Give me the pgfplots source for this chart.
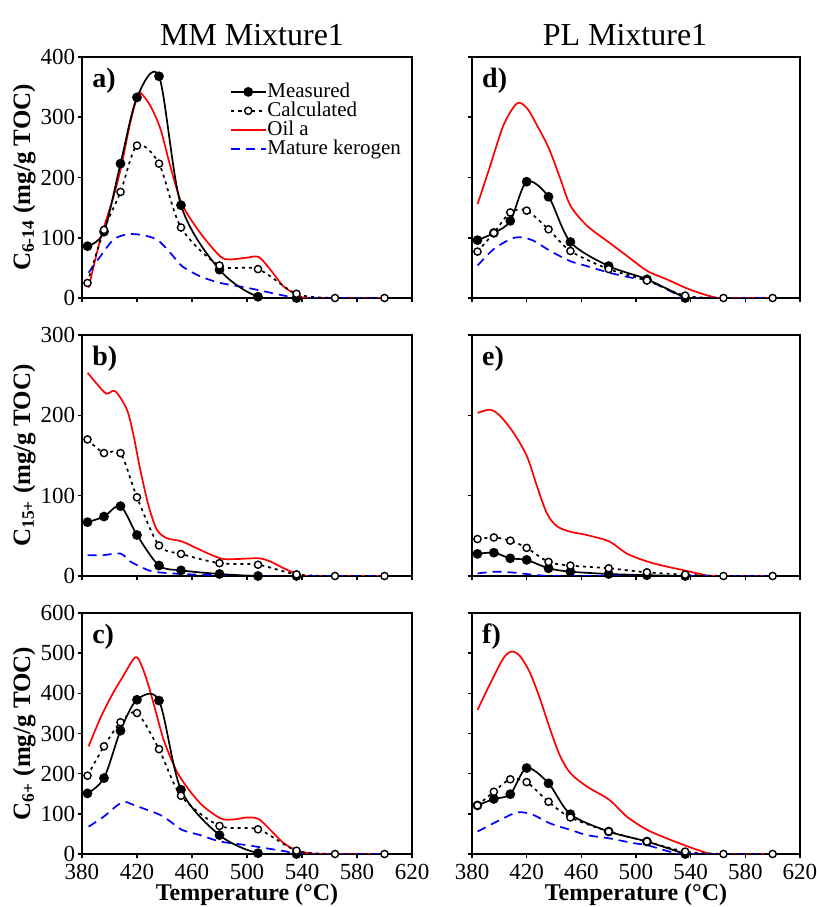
\documentclass[border=0pt]{standalone}
\usepackage{pgfplots}
\pgfplotsset{compat=1.18}
\usepackage{fontspec}
\setmainfont{Liberation Serif}

\pgfplotsset{
  panel/.style={
    scale only axis, width=165pt, height=120.5pt,
    xmin=380, xmax=620, xtick={380,420,...,620}, ymin=0,
    axis line style={line width=1pt},
    tick align=outside, tick pos=left, major tick length=2.2pt,
    every tick/.style={black, line width=0.8pt},
    tick label style={font=\fontsize{11.5}{11.5}\selectfont, inner sep=1pt},
    xticklabel style={inner ysep=0pt, yshift=-2.5pt},
    yticklabel style={inner ysep=0pt},
    /pgf/number format/assume math mode=true,
    ylabel style={at={(axis description cs:-0.175,0.5)}, anchor=center,
      font=\fontsize{12.5}{12.5}\bfseries\selectfont},
    xlabel style={at={(axis description cs:0.5,-0.193)}, anchor=base, inner sep=0pt,
      font=\fontsize{12}{12}\bfseries\selectfont},
  },
  measured/.style={black, line width=0.85pt, smooth, mark=*, mark size=2pt},
  calculated/.style={black, line width=0.85pt, smooth, dash pattern=on 1.5pt off 2pt,
    mark=*, mark size=1.8pt, mark options={solid, fill=white, draw=black, line width=0.7pt}},
  oil/.style={red, line width=0.85pt, smooth, no markers},
  kerogen/.style={blue, line width=0.85pt, smooth, no markers, dash pattern=on 4.5pt off 3pt},
}
\newcommand{\plab}[1]{\node[anchor=north west, inner sep=0pt,
  font=\fontsize{14}{14}\bfseries\selectfont] at (rel axis cs:0.03,0.955) {#1};}

\begin{document}
\begin{tikzpicture}
\path[use as bounding box] (0,0) rectangle (408pt,453.5pt);

\node[font=\fontsize{16}{16}\selectfont] at (126pt,436pt) {MM Mixture1};
\node[font=\fontsize{16}{16}\selectfont] at (312.5pt,436pt) {PL Mixture1};

% ---- a) C6-14, MM
\begin{axis}[panel, at={(41pt,304.5pt)}, anchor=south west,
  ymax=400, ytick={0,100,...,400}, xticklabels={},
  ylabel={C\textsubscript{6-14} (mg/g TOC)},
  legend style={at={(rel axis cs:0.43,0.915)}, anchor=north west, draw=none, fill=none,
    font=\fontsize{10.5}{10.5}\selectfont, row sep=-0.5pt, nodes={inner sep=0.6pt}},
  legend cell align=left]
\addlegendimage{measured}
\addlegendimage{calculated}
\addlegendimage{oil}
\addlegendimage{kerogen}
\legend{Measured, Calculated, Oil a, Mature kerogen}
\addplot[oil] coordinates {(384.8,17)(393.3,97)(403,169)(408.6,219)(415.2,292)(420.5,336)(422.9,340)(429.7,319)(437,281)(444.2,219)(452.7,156)(466,108)(480.6,69)(487.9,64)(500,67)(508.5,68)(517,47)(526.7,19)(536.4,5.6)(546,0)(600,0)};
\addplot[kerogen] coordinates {(384.8,42)(393.3,69)(403,97)(412.7,105.5)(422.4,105)(434.5,97)(444.2,75)(452.7,53)(466,36)(480.6,25)(500,17)(514.5,10)(529,3)(538.8,0)(600,0)};
\addplot[measured] coordinates {(384,86)(396,110)(408,223)(420,333)(436,368)(452,154)(480,47)(508,2)(536,0)};
\addplot[calculated] coordinates {(384,25)(396,113)(408,176)(420,253)(436,223)(452,117)(480,54)(508,48)(536,7)(564,0)(600,0)};
\plab{a)}
\end{axis}

% ---- b) C15+, MM
\begin{axis}[panel, at={(41pt,165.5pt)}, anchor=south west,
  ymax=300, ytick={0,100,...,300}, xticklabels={},
  ylabel={C\textsubscript{15+} (mg/g TOC)}]
\addplot[oil] coordinates {(384.1,253)(390.9,239)(397.7,227)(404.2,230)(412.7,207)(417.6,174)(422.4,132)(428.5,87)(434.5,57.5)(441.8,47)(452.7,43)(466,32.5)(480.6,22)(490.3,21)(508.5,22)(517,18)(526.7,9.6)(536.4,2.5)(543.6,0)(600,0)};
\addplot[kerogen] coordinates {(384.1,26)(395.8,26)(407.9,28)(415.2,18)(422.4,11.7)(432.1,5.4)(452.7,2.5)(480.6,1)(514.5,0)(600,0)};
\addplot[measured] coordinates {(384,67)(396,74)(408,87)(420,51)(436,13)(452,7)(480,2.5)(508,0)(536,0)};
\addplot[calculated] coordinates {(384,170)(396,153)(408,153)(420,98)(436,38)(452,27.5)(480,16)(508,14)(536,2)(564,0)(600,0)};
\plab{b)}
\end{axis}

% ---- c) C6+, MM
\begin{axis}[panel, at={(41pt,26.5pt)}, anchor=south west,
  ymax=600, ytick={0,100,...,600},
  ylabel={C\textsubscript{6+} (mg/g TOC)}, xlabel={Temperature (°C)}]
\addplot[oil] coordinates {(384.8,268)(393.3,338)(401.8,396)(409.1,438)(418.8,490)(423.6,467)(428.5,418)(433.3,359)(439.4,284)(446.7,222)(452.7,184)(466,126)(480.6,89)(490.3,86)(500,91)(508.5,87)(517,60)(526.7,27)(536.4,8.3)(546,1.7)(555.8,0)(600,0)};
\addplot[kerogen] coordinates {(384.8,68)(395.8,93)(403,114)(410.3,130)(417.6,122)(427.3,110)(437,97)(444.2,81)(452.7,60)(466,47)(480.6,31)(500,22)(514.5,14)(529,6)(538.8,0)(600,0)};
\addplot[measured] coordinates {(384,151)(396,189)(408,307)(420,384)(436,382)(452,160)(480,47)(508,2)(536,0)};
\addplot[calculated] coordinates {(384,195)(396,268)(408,328)(420,351)(436,261)(452,145)(480,70)(508,61.5)(536,8.3)(564,0)(600,0)};
\plab{c)}
\end{axis}

% ---- d) C6-14, PL
\begin{axis}[panel, width=164pt, at={(236pt,304.5pt)}, anchor=south west,
  ymax=400, ytick={0,100,...,400}, xticklabels={}, yticklabels={}]
\addplot[oil] coordinates {(384.1,156)(393.4,220)(403.1,287)(412.9,323)(420.2,315)(427.5,287)(436.3,248)(444.6,198)(452.1,153)(464.1,120)(480.4,92)(493.3,70)(508.2,45)(522.5,31)(536.2,17)(546.9,8)(557.9,1)(564,0)(600,0)};
\addplot[kerogen] coordinates {(384.1,54)(395.8,81)(408,97.5)(415.3,101)(425.1,95)(437.3,78)(452.1,61)(464.1,53)(480.4,42)(498.2,33)(508.2,30)(520.1,17)(529.9,6)(536.2,0)(600,0)};
\addplot[measured] coordinates {(384,96)(396,108)(408,128)(420,193)(436,168)(452,93)(480,53)(508,31)(536,0)};
\addplot[calculated] coordinates {(384,77)(396,108)(408,142)(420,145)(436,114)(452,78)(480,48)(508,29)(536,4)(564,0)(600,0)};
\plab{d)}
\end{axis}

% ---- e) C15+, PL
\begin{axis}[panel, width=164pt, at={(236pt,165.5pt)}, anchor=south west,
  ymax=300, ytick={0,100,...,300}, xticklabels={}, yticklabels={}]
\addplot[oil] coordinates {(384.1,203)(393.4,207)(400.7,199)(410.5,178)(420.2,149)(427.5,112)(434.8,78)(442.1,62)(452.1,55)(464.1,51)(480.4,43)(493.3,28)(508.2,18)(522.5,11.7)(536.2,6.7)(546.9,2.5)(557.9,0)(600,0)};
\addplot[kerogen] coordinates {(384.1,3.3)(398.3,5.4)(410.5,4.2)(425.1,1.7)(449.4,0)(600,0)};
\addplot[measured] coordinates {(384,27.5)(396,29)(408,22)(420,20)(436,9.6)(452,5.4)(480,2.5)(508,1)(536,0)};
\addplot[calculated] coordinates {(384,46)(396,48)(408,44)(420,35)(436,17.5)(452,13)(480,9.6)(508,4.6)(536,1.7)(564,0)(600,0)};
\plab{e)}
\end{axis}

% ---- f) C6+, PL
\begin{axis}[panel, width=164pt, at={(236pt,26.5pt)}, anchor=south west,
  ymax=600, ytick={0,100,...,600}, yticklabels={},
  xlabel={Temperature (°C)}]
\addplot[oil] coordinates {(384.1,359)(393.4,425)(403.1,488)(409.2,504)(415.3,492)(422.6,450)(430,384)(437.3,309)(444.6,243)(452.1,201)(464.1,168)(480.4,135)(493.3,93)(508.2,60)(522.5,39)(536.2,21)(546.9,8.3)(557.9,0)(600,0)};
\addplot[kerogen] coordinates {(384.1,56)(398.3,81)(410.5,101)(416.5,104)(425.1,97)(437.3,76)(452.1,60)(464.1,47)(480.4,39)(498.2,27)(508.2,22)(520.1,10)(529.9,1.7)(536.2,0)(600,0)};
\addplot[measured] coordinates {(384,121)(396,137)(408,149)(420,214)(436,176)(452,99)(480,56)(508,31)(536,0)};
\addplot[calculated] coordinates {(384,121)(396,155)(408,186)(420,179)(436,130)(452,91)(480,56)(508,31)(536,6)(564,0)(600,0)};
\plab{f)}
\end{axis}
\end{tikzpicture}
\end{document}
